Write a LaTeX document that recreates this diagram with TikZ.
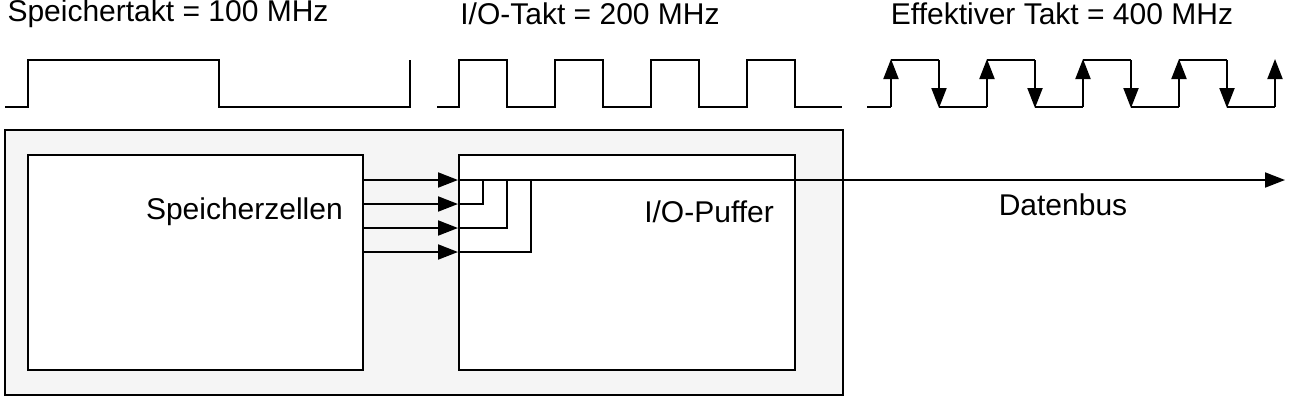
\documentclass[tikz,border=0pt]{standalone}
\usepackage{fontspec}
\setmainfont{Liberation Sans}
\usetikzlibrary{arrows.meta}
\begin{document}
\begin{tikzpicture}[x=1pt,y=-1pt,
  wire/.style={line width=2pt},
  arr/.style={wire,-{Triangle[length=20pt,width=15pt]}},
  lbl/.style={font=\fontsize{30}{34}\selectfont,inner sep=0pt},
  box/.style={draw,line width=2pt,fill=white,inner sep=0pt}]
\useasboundingbox (0,0) rectangle (1301,400);
\node[lbl] (t1) at (168,14) {Speichertakt = 100 MHz};
\node[lbl] (t2) at (590,14) {I/O-Takt = 200 MHz};
\node[lbl] (t3) at (1062,14) {Effektiver Takt = 400 MHz};
% clock 1
\draw[wire] (5,107)--(28,107)--(28,60)--(219,60)--(219,107)--(410,107)--(410,60);
% clock 2
\draw[wire] (437,107)--(459,107)--(459,60)--(507,60)--(507,107)--(555,107)--(555,60)--(603,60)--(603,107)--(651,107)--(651,60)--(699,60)--(699,107)--(747,107)--(747,60)--(795,60)--(795,107)--(842,107);
% clock 3
\draw[wire] (867,107)--(891,107);
\foreach \x in {891,987,1083,1179}{
  \draw[arr] (\x,107)--(\x,59);
  \draw[wire] (\x,60)--(\x+48,60);
  \draw[arr] (\x+48,60)--(\x+48,108);
  \draw[wire] (\x+48,107)--(\x+96,107);
}
\draw[arr] (1275,107)--(1275,59);
% boxes
\draw[line width=2pt,fill=black!4] (5,130) rectangle (843,395);
\node[box,minimum width=335pt,minimum height=215pt] (sz) at (195.5,262.5) {};
\node[box,minimum width=336pt,minimum height=215pt] (io) at (627,262.5) {};
\node[lbl,anchor=east] (szl) at (343,212) {Speicherzellen};
\node[lbl,anchor=east] (iol) at (774,212) {I/O-Puffer};
\node[lbl] (db) at (1063,205) {Datenbus};
\coordinate (busend) at (1285,180);
\foreach \y in {180,204,228,252}{
  \draw[arr] (sz.east |- 0,\y) -- (io.west |- 0,\y);
}
\draw[arr] (io.west |- 0,180) -- (busend);
\draw[wire] (459,204)--(483,204)--(483,180);
\draw[wire] (459,228)--(507,228)--(507,180);
\draw[wire] (459,252)--(531,252)--(531,180);
\end{tikzpicture}
\end{document}
